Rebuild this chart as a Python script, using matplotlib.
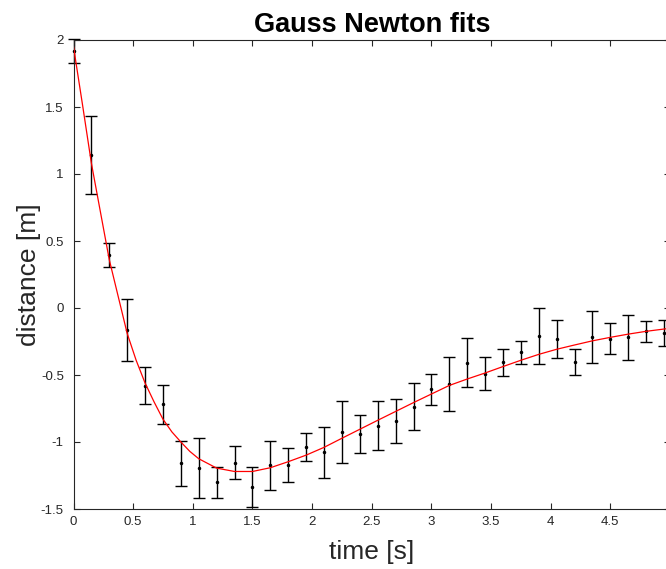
import matplotlib
matplotlib.use("Agg")
import matplotlib.pyplot as plt

plt.rcParams['font.family'] = ['Liberation Sans', 'DejaVu Sans']
plt.rcParams['axes.unicode_minus'] = False

# measured data (time, distance, error)
t_data = [0.0, 0.15, 0.3, 0.45, 0.6, 0.75, 0.9, 1.05, 1.2, 1.35, 1.5, 1.65,
          1.8, 1.95, 2.1, 2.25, 2.4, 2.55, 2.7, 2.85, 3.0, 3.15, 3.3, 3.45,
          3.6, 3.75, 3.9, 4.05, 4.2, 4.35, 4.5, 4.65, 4.8, 4.95]
d_data = [1.92, 1.143, 0.395, -0.166, -0.579, -0.719, -1.16, -1.194, -1.30,
          -1.154, -1.338, -1.175, -1.17, -1.036, -1.078, -0.924, -0.939,
          -0.878, -0.843, -0.736, -0.607, -0.567, -0.407, -0.49, -0.405,
          -0.331, -0.208, -0.233, -0.403, -0.214, -0.229, -0.218, -0.175,
          -0.188]
d_err = [0.09, 0.29, 0.087, 0.23, 0.14, 0.147, 0.168, 0.224, 0.116, 0.122,
         0.15, 0.182, 0.128, 0.106, 0.188, 0.23, 0.143, 0.184, 0.167, 0.174,
         0.114, 0.199, 0.183, 0.122, 0.10, 0.087, 0.21, 0.143, 0.097, 0.194,
         0.117, 0.168, 0.076, 0.096]

# fitted curve
t_fit = [0.0, 0.075, 0.15, 0.225, 0.3, 0.375, 0.45, 0.525, 0.6, 0.675, 0.75,
         0.825, 0.9, 0.975, 1.05, 1.2, 1.35, 1.5, 1.65, 1.8, 1.95, 2.1, 2.25,
         2.4, 2.55, 2.7, 2.85, 3.0, 3.15, 3.3, 3.45, 3.6, 3.75, 3.9, 4.05,
         4.2, 4.35, 4.5, 4.65, 4.8, 4.95, 5.0]
d_fit = [1.95, 1.52, 1.08, 0.72, 0.36, 0.085, -0.19, -0.39, -0.56, -0.70,
         -0.83, -0.925, -1.0, -1.07, -1.125, -1.195, -1.22, -1.22, -1.192,
         -1.147, -1.098, -1.04, -0.972, -0.905, -0.838, -0.772, -0.706,
         -0.642, -0.578, -0.53, -0.485, -0.437, -0.39, -0.346, -0.308,
         -0.276, -0.245, -0.219, -0.195, -0.174, -0.157, -0.151]

xticks = [0, 0.5, 1, 1.5, 2, 2.5, 3, 3.5, 4, 4.5, 5]
xticklabels = ['0', '0.5', '1', '1.5', '2', '2.5', '3', '3.5', '4', '4.5', '5']
yticks = [-1.5, -1, -0.5, 0, 0.5, 1, 1.5, 2]
yticklabels = ['-1.5', '-1', '-0.5', '0', '0.5', '1', '1.5', '2']

fig = plt.figure(figsize=(6.66, 5.69), dpi=100)
ax = fig.add_axes([73.5 / 666, 60 / 569, (670 - 73.5) / 666, 469 / 569])

gray = '#262626'
ax.errorbar(t_data, d_data, yerr=d_err, fmt='.', color='black', ms=3,
            ecolor='black', elinewidth=1.0, capsize=4, capthick=1.0,
            clip_on=False, zorder=2)
ax.plot(t_fit, d_fit, color='red', lw=0.9, zorder=3)

ax.set_xlim(0, 5)
ax.set_ylim(-1.5, 2)
ax.set_xticks(xticks)
ax.set_xticklabels(xticklabels)
ax.set_yticks(yticks)
ax.set_yticklabels(yticklabels)
ax.tick_params(direction='in', length=4, width=0.8, colors=gray,
               labelsize=9.5, top=True, right=True)
ax.tick_params(axis='x', pad=5)
ax.tick_params(axis='y', pad=7)
for s in ax.spines.values():
    s.set_color(gray)
    s.set_linewidth(0.8)

ax.set_title('Gauss Newton fits', fontsize=19.5, fontweight='bold', pad=6,
             color='black')
ax.set_xlabel('time [s]', fontsize=19, color=gray, labelpad=9)
ax.set_ylabel('distance [m]', fontsize=19, color=gray, labelpad=0)

fig.savefig('out.png', dpi=100)
